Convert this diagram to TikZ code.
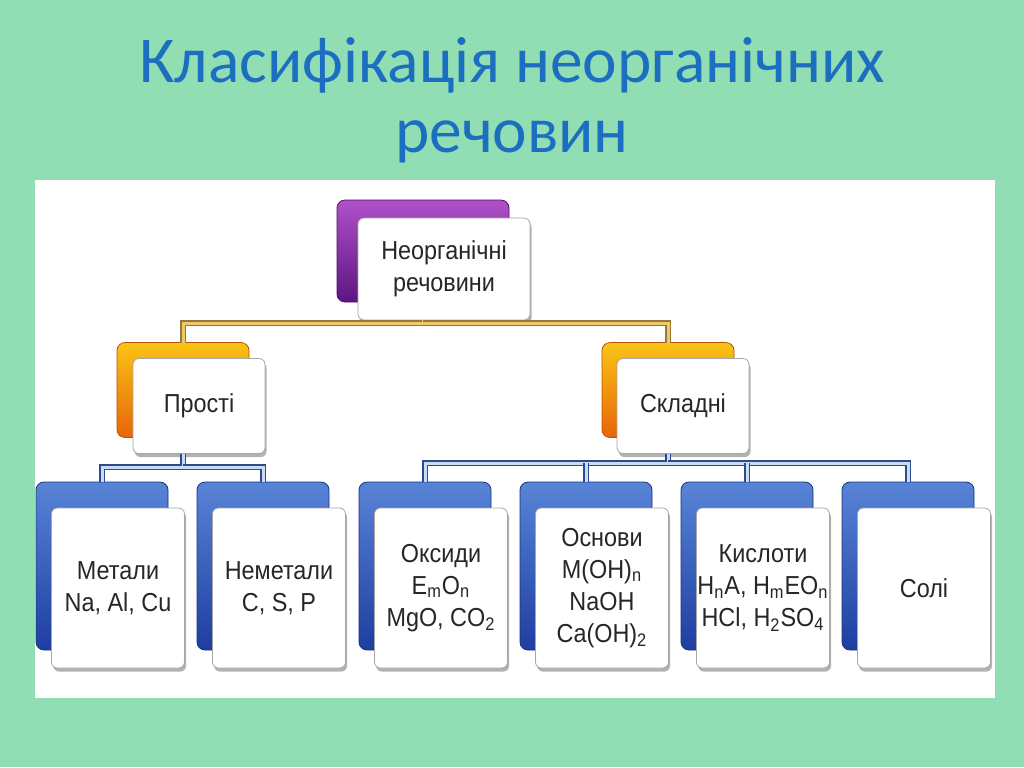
\documentclass[tikz,border=0pt]{standalone}
\usepackage{fontspec}
\setmainfont{Liberation Sans}[FakeStretch=0.9]
\newfontfamily\cbTitleFont{Carlito}
\usetikzlibrary{shadows}

\definecolor{cbGreen}{RGB}{146,222,180}
\definecolor{cbTitle}{RGB}{28,110,192}
\definecolor{cbPurpleTop}{RGB}{176,80,200}
\definecolor{cbPurpleBot}{RGB}{92,22,130}
\definecolor{cbOrangeTop}{RGB}{250,196,20}
\definecolor{cbOrangeBot}{RGB}{232,100,10}
\definecolor{cbBlueTop}{RGB}{88,132,215}
\definecolor{cbBlueBot}{RGB}{30,62,160}
\definecolor{cbOLine}{RGB}{150,120,60}
\definecolor{cbOFill}{RGB}{240,200,100}
\definecolor{cbBLine}{RGB}{45,75,140}
\definecolor{cbBFill}{RGB}{200,220,245}

\tikzset{cbback/.style={rounded corners=4pt,inner sep=0pt,outer sep=0pt,draw=#1Bot!80!black,
                        top color=#1Top,bottom color=#1Bot},
         cbfront/.style={rounded corners=3pt,inner sep=0pt,outer sep=0pt,fill=white,draw=gray!70,
                         align=center,font=\fontsize{13}{16}\selectfont,text=black!85,
                         drop shadow={shadow xshift=0.8pt,shadow yshift=-1.8pt,opacity=0.6}},
         cbtop/.style={minimum width=86pt,minimum height=51pt},
         cbmid/.style={minimum width=66pt,minimum height=47.5pt},
         cblow/.style={minimum width=66.5pt,minimum height=80pt},
         cbOline/.style={draw=cbOLine,double=cbOFill,double distance=1.5pt,line width=0.6pt},
         cbBline/.style={draw=cbBLine,double=cbBFill,double distance=1.5pt,line width=0.6pt}}

\begin{document}
\begin{tikzpicture}[x=0.5pt,y=-0.5pt]
  % background and panel
  \fill[cbGreen] (0,0) rectangle (1024,767);
  \fill[white] (35,180) rectangle (995,698);
  \node[font=\cbTitleFont\fontsize{32.7}{35}\selectfont,text=cbTitle,align=center] (title) at (512,100)
    {Класифікація неорганічних\\речовин};
  % top level
  \node[cbback=cbPurple,cbtop] (inorgB) at (423,251) {};
  \node[cbfront,cbtop] (inorg) at (444,269) {Неорганічні\\речовини};
  % second level
  \node[cbback=cbOrange,cbmid] (simpleB) at (183,390) {};
  \node[cbfront,cbmid] (simple) at (199,406) {Прості};
  \node[cbback=cbOrange,cbmid] (complexB) at (668,390) {};
  \node[cbfront,cbmid] (complex) at (683,406) {Складні};
  % third level
  \foreach \nm/\x/\txt in {met/102/{Метали\\Na, Al, Cu},
                           nonmet/263/{Неметали\\C, S, P},
                           oxid/425/{Оксиди\\E\textsubscript{m}O\textsubscript{n}\\MgO, CO\textsubscript{2}},
                           base/586/{Основи\\M(OH)\textsubscript{n}\\NaOH\\Ca(OH)\textsubscript{2}},
                           acid/747/{Кислоти\\H\textsubscript{n}A, H\textsubscript{m}EO\textsubscript{n}\\HCl, H\textsubscript{2}SO\textsubscript{4}},
                           salt/908/{Солі}} {
    \node[cbback=cbBlue,minimum width=66pt,minimum height=84pt] (\nm B) at (\x,566) {};
    \node[cbfront,cblow] (\nm) at (\x+16,588) {\txt};
  }
  % connectors
  \coordinate (busO) at (0,323);
  \coordinate (busL) at (0,467);
  \coordinate (busR) at (0,463);
  \draw[cbOline] (inorgB |- inorg.south) -- (inorgB |- busO) -| (simpleB.north);
  \draw[cbOline] (inorgB |- busO) -| (complexB.north);
  \draw[cbBline] (simpleB |- simple.south) -- (simpleB |- busL) -| (metB.north);
  \draw[cbBline] (simpleB |- busL) -| (nonmetB.north);
  \draw[cbBline] (complexB |- complex.south) -- (complexB |- busR) -| (oxidB.north);
  \draw[cbBline] (complexB |- busR) -| (saltB.north);
  \draw[cbBline] (baseB |- busR) -- (baseB.north);
  \draw[cbBline] (acidB |- busR) -- (acidB.north);
\end{tikzpicture}
\end{document}
